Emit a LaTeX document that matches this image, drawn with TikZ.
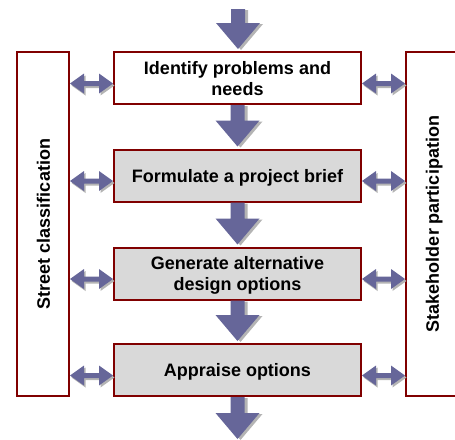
\documentclass[tikz,border=0pt]{standalone}
\usepackage{fontspec}
\setmainfont{Liberation Sans}
\usetikzlibrary{calc}
\definecolor{boxred}{HTML}{800000}
\definecolor{arrowblue}{HTML}{666699}
\definecolor{shadowgrey}{HTML}{B4B4B4}
\definecolor{boxgrey}{HTML}{D9D9D9}

\newcommand{\flowarrow}[2]{%
  \fill[shadowgrey] let \p1=(#1), \p2=(#2) in
    (\x1-4pt,\y1-1pt) -- (\x1+10pt,\y1-1pt) -- (\x1+10pt,\y2+25pt) -- (\x1+25pt,\y2+25pt)
    -- (\x1+3pt,\y2-1pt) -- (\x1-19pt,\y2+25pt) -- (\x1-4pt,\y2+25pt) -- cycle;
  \fill[arrowblue] let \p1=(#1), \p2=(#2) in
    (\x1-7pt,\y1) -- (\x1+7pt,\y1) -- (\x1+7pt,\y2+26pt) -- (\x1+22pt,\y2+26pt)
    -- (\x1,\y2) -- (\x1-22pt,\y2+26pt) -- (\x1-7pt,\y2+26pt) -- cycle;
}
\newcommand{\sidearrow}[3]{%
  \fill[shadowgrey] let \p1=(#1), \p2=(#2), \p3=(#3.center) in
    (\x1+1.5pt,\y3-7.5pt) -- (\x1+15.5pt,\y3+2.5pt) -- (\x1+15.5pt,\y3-5pt) -- (\x2-12.5pt,\y3-5pt)
    -- (\x2-12.5pt,\y3+2.5pt) -- (\x2+1.5pt,\y3-7.5pt) -- (\x2-12.5pt,\y3-17.5pt) -- (\x2-12.5pt,\y3-10pt)
    -- (\x1+15.5pt,\y3-10pt) -- (\x1+15.5pt,\y3-17.5pt) -- cycle;
  \fill[arrowblue] let \p1=(#1), \p2=(#2), \p3=(#3.center) in
    (\x1,\y3-5.5pt) -- (\x1+14pt,\y3+4.5pt) -- (\x1+14pt,\y3-3pt) -- (\x2-14pt,\y3-3pt)
    -- (\x2-14pt,\y3+4.5pt) -- (\x2,\y3-5.5pt) -- (\x2-14pt,\y3-15.5pt) -- (\x2-14pt,\y3-8pt)
    -- (\x1+14pt,\y3-8pt) -- (\x1+14pt,\y3-15.5pt) -- cycle;
}

\begin{document}
\begin{tikzpicture}[x=1pt,y=-1pt,
  txt/.style={font=\fontsize{18}{21}\selectfont\bfseries, text=black},
  stepbox/.style={draw=boxred, line width=2pt, minimum width=247pt, minimum height=52pt,
    inner sep=0pt, align=center, text height=13pt, text depth=0pt, txt},
  twoline/.style={text height=34pt},
  sidebox/.style={draw=boxred, line width=2pt, minimum width=52pt, minimum height=344pt, inner sep=0pt}]
\useasboundingbox (0,0) rectangle (455,439);

\node[sidebox] (L) at (43,224) {};
\node[sidebox] (R) at (432,224) {};
\node[txt, rotate=90] (Ltext) at (43.5,224) {Street classification};
\node[txt, rotate=90] (Rtext) at (434.3,224) {Stakeholder participation};

\node[stepbox, twoline, fill=white] (B1) at (237.5,78) {Identify problems and\\needs};
\node[stepbox, fill=boxgrey] (B2) at (237.5,175.5) {Formulate a project brief};
\node[stepbox, twoline, fill=boxgrey] (B3) at (237.5,273.5) {Generate alternative\\design options};
\node[stepbox, fill=boxgrey] (B4) at (237.5,370) {Appraise options};

\coordinate (top) at (238,9);
\coordinate (bot) at (238,439);

\flowarrow{top}{[yshift=2pt]B1.north}
\flowarrow{B1.south}{[yshift=2pt]B2.north}
\flowarrow{B2.south}{[yshift=2pt]B3.north}
\flowarrow{B3.south}{[yshift=2pt]B4.north}
\flowarrow{B4.south}{bot}

\sidearrow{L.east}{B1.west}{B1}
\sidearrow{L.east}{B2.west}{B2}
\sidearrow{L.east}{B3.west}{B3}
\sidearrow{L.east}{B4.west}{B4}
\sidearrow{B1.east}{R.west}{B1}
\sidearrow{B2.east}{R.west}{B2}
\sidearrow{B3.east}{R.west}{B3}
\sidearrow{B4.east}{R.west}{B4}
\end{tikzpicture}
\end{document}
